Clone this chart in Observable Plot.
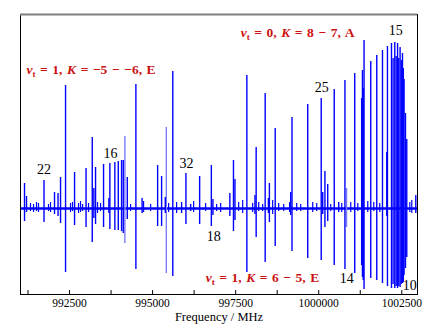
<!DOCTYPE html>
<html><head><meta charset="utf-8">
<script src="https://cdn.jsdelivr.net/npm/d3@7"></script>
<script src="https://cdn.jsdelivr.net/npm/@observablehq/plot@0.6"></script>
<style>body{margin:0;background:#fff}</style>
</head><body><div id="chart"></div>
<script>
// Strong spectral lines: frequency (MHz), positive lobe, negative lobe (arb. units)
const lineFreq = [991145,991205,991732,992048,992154,992229,992380,992651,992997,993184,993232,993283,993524,993684,993714,993864,993967,994066,994117,994238,994497,994684,995151,995271,995382,995608,995873,996003,996145,996416,996768,996816,997325,997434,997479,997837,998081,998117,998388,998485,998515,998690,999126,999157,999196,999669,1000075,1000120,1000187,1000271,1000467,1000602,1000789,1001084,1001292,1001316,1001340,1001364,1001566,1001747,1001919,1002048,1002069,1002190,1002238,1002289,1002331,1002373,1002409,1002449,1002485,1002521,1002545,1002569,1002611,1002650,1002922];
const lineUp   = [25,12,28,16,15,31,123,36,40,71,20,41,44,10,45,46,47,48,48,31,124,10,43,32,11,137,6,35,4,32,43,9,15,48,29,133,13,61,115,10,25,80,6,16,91,104,110,16,37,24,119,6,128,135,110,138,120,168,147,153,158,56,162,165,150,166,152,165,150,161,148,155,140,129,95,69,13];
const lineDown = [-13,-4,-14,-6,-8,-15,-64,-17,-19,-34,-10,-16,-19,-5,-21,-22,-22,-23,-25,-11,-61,-5,-18,-18,-5,-68,-5,-16,-3,-16,-18,-7,-8,-23,-12,-64,-6,-29,-54,-5,-14,-38,-4,-7,-43,-50,-52,-6,-19,-13,-57,-4,-61,-65,-57,-69,-72,-81,-70,-72,-75,-8,-78,-80,-76,-80,-78,-80,-78,-79,-76,-75,-74,-67,-60,-49,-5];
// Blended (lighter) lines
const blendFreq = [994166, 995413, 1000837];
const blendUp   = [72, 81, 20];
const blendDown = [-35, -65, -19];
// Small baseline features
const noiseFreq = [991325,991416,991506,991566,991867,991928,992530,992590,992771,992831,992892,993072,993343,993434,994337,994729,994940,995482,995723,996235,996596,996928,997048,997590,997711,998012,998193,998313,998614,998795,998946,999337,999458,999819,999940,1000361,1000693,1000964,1001175,1001476,1001657,1001837,1002741,1002801];
const noiseUp   = [5,4,6,5,4,6,5,6,5,7,4,5,6,5,4,7,4,5,6,7,5,4,5,6,8,5,6,4,8,5,4,5,4,6,5,4,5,6,5,7,6,5,6,8];
const noiseDown = [-3,-4,-3,-4,-3,-4,-4,-3,-5,-4,-3,-4,-5,-3,-3,-4,-3,-4,-5,-4,-3,-3,-4,-3,-5,-4,-3,-3,-6,-3,-3,-3,-3,-4,-3,-3,-4,-4,-3,-4,-3,-4,-4,-5];

const xTicks = [992500, 995000, 997500, 1000000, 1002500];
const xMinorTicks = [991250, 993750, 996250, 998750, 1001250];
const xDomain = [991024, 1002973];
const yDomain = [-86, 194];

// Quantum-number labels
const numText = ["22","16","32","18","25","15","14","10"];
const numFreq = [991732, 993735, 996024, 996837, 1000090, 1002319, 1000843, 1002741];
const numY    = [35, 51, 41, -32, 117, 174, -74, -81];

// Transition labels
const trVt   = ["1", "0", "1"];
const trK    = ["\u22125 \u2212 \u22126", "8 \u2212 7", "6 \u2212 5"];
const trSym  = ["E", "A", "E"];
const trFreq = [991205, 997651, 996596];
const trY    = [135, 172, -73];

const mk = (f, u, d) => f.map((x, i) => ({f: x, up: u[i], down: d[i]}));
const lines = mk(lineFreq, lineUp, lineDown);
const blends = mk(blendFreq, blendUp, blendDown);
const noise = mk(noiseFreq, noiseUp, noiseDown);
const nums = numText.map((t, i) => ({t, f: numFreq[i], y: numY[i]}));
const trs = trVt.map((v, i) => ({t: `\u03BDt = ${v}, K = ${trK[i]}, ${trSym[i]}`, v, k: trK[i], s: trSym[i], f: trFreq[i], y: trY[i]}));

const tickShape = {draw(ctx, l) { ctx.moveTo(0, 0); ctx.lineTo(0, -l); }};
const serif = "'Liberation Serif', 'Times New Roman', serif";
const blue = "#0000ff";

const chart = Plot.plot({
  width: 436, height: 327,
  marginLeft: 20, marginRight: 19, marginTop: 14, marginBottom: 33,
  style: {fontFamily: serif, fontSize: "11.5px", background: "#fff"},
  x: {domain: xDomain},
  y: {domain: yDomain, axis: null},
  marks: [
    Plot.ruleY([0], {stroke: blue, strokeWidth: 2.6}),
    Plot.ruleX(noise, {x: "f", y1: "down", y2: "up", stroke: blue, strokeWidth: 1.2}),
    Plot.ruleX(blends, {x: "f", y1: "down", y2: "up", stroke: "#7a7aff", strokeWidth: 1.4}),
    Plot.ruleX(lines, {x: "f", y1: "down", y2: "up", stroke: blue, strokeWidth: 1.4}),
    Plot.text(nums, {x: "f", y: "y", text: "t", textAnchor: "middle", lineAnchor: "bottom", fontSize: 14, fill: "black"}),
    Plot.text(trs, {x: "f", y: "y", text: "t", textAnchor: "start", lineAnchor: "bottom", fontSize: 13.5, fontWeight: "bold", fill: "#cc1111"}),
    Plot.frame({stroke: "black", strokeWidth: 1}),
    Plot.ruleY([yDomain[1]], {stroke: "#808080", strokeWidth: 2}),
    Plot.vector(xTicks.concat(xMinorTicks), {x: d => d, frameAnchor: "bottom", length: 4, anchor: "start", shape: tickShape, stroke: "black", strokeWidth: 1}),
    Plot.axisX(xTicks, {tickSize: 0, tickPadding: 4, tickFormat: d => String(d), fontSize: 11.5, label: null}),
    Plot.text(["Frequency / MHz"], {frameAnchor: "bottom", dy: 26, fontSize: 12.5, fill: "black"})
  ]
});
document.getElementById("chart").appendChild(chart);

// Rich formatting for transition labels
const NS = "http://www.w3.org/2000/svg";
d3.select(chart).selectAll("text").each(function() {
  const txt = this.textContent;
  const tr = trs.find(d => d.t === txt);
  if (!tr) return;
  while (this.firstChild) this.removeChild(this.firstChild);
  this.setAttribute("word-spacing", "1.2");
  const parts = [
    {s: "\u03BD", it: true},
    {s: "t", sub: true},
    {s: ` = ${tr.v}, `, up: true},
    {s: "K", it: true},
    {s: ` = ${tr.k}, ${tr.s}`}
  ];
  for (const p of parts) {
    const ts = document.createElementNS(NS, "tspan");
    ts.textContent = p.s;
    if (p.it) ts.setAttribute("font-style", "italic");
    if (p.sub) { ts.setAttribute("font-size", "9"); ts.setAttribute("dy", "3"); }
    if (p.up) ts.setAttribute("dy", "-3");
    this.appendChild(ts);
  }
});
</script>
</body></html>
